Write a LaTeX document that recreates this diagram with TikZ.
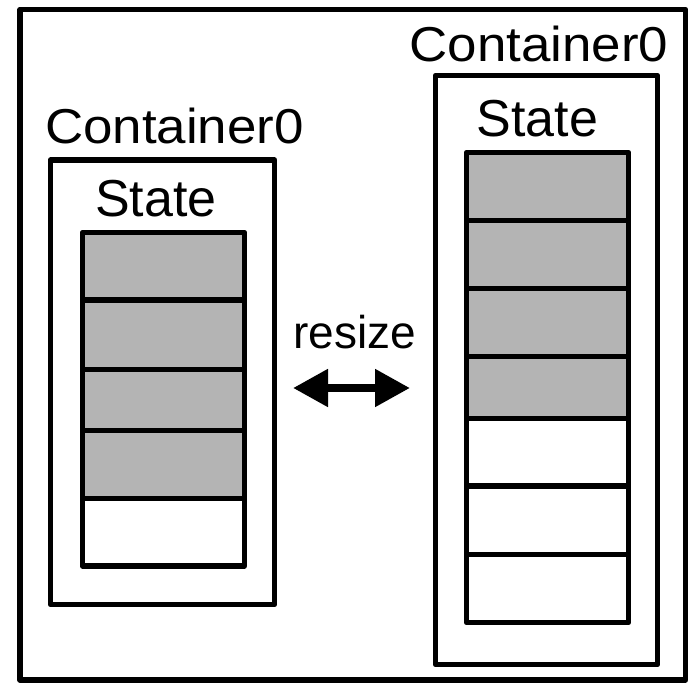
\documentclass[tikz,border=0pt]{standalone}
\usepackage{fontspec}
\setmainfont{Liberation Sans}
\usetikzlibrary{arrows.meta}
\definecolor{cellgray}{gray}{0.706}
\tikzset{
  frame/.style={draw=black, line width=5.5pt, line join=round},
  cellbox/.style={draw=black, line width=5.5pt, line join=round},
  label/.style={inner sep=0pt, anchor=base, font=\fontsize{49}{49}\selectfont},
  resizearrow/.style={line width=8pt,
    {Triangle[length=35pt,width=36pt]}-{Triangle[length=35pt,width=36pt]}},
}
\begin{document}
\begin{tikzpicture}[x=1pt, y=-1pt]
\useasboundingbox (0,0) rectangle (694,683);

% outer frame
\draw[frame] (20,9.5) rectangle (685.5,680);

% ---- left container ----
\draw[frame] (50.5,160) rectangle (274.5,604.5);
\node[label] (lcont) at (174.5,143) {\scalebox{1.08}[1]{Container0}};
\node[label, font=\fontsize{52}{52}\selectfont] (lstate) at (156,216) {State};
\def\lx{82.5} \def\rx{244.5}
\foreach \ya/\yb/\fc in {232.5/300/cellgray, 300/369.5/cellgray,
    369.5/430.5/cellgray, 430.5/498.5/cellgray, 498.5/566/white}
  \draw[cellbox, fill=\fc] (\lx,\ya) rectangle (\rx,\yb);

% ---- right container ----
\draw[frame] (435.5,75.5) rectangle (657.5,664.5);
\node[label] (rcont) at (539,61) {\scalebox{1.08}[1]{Container0}};
\node[label, font=\fontsize{52}{52}\selectfont] (rstate) at (537.5,136) {State};
\def\lxr{466.5} \def\rxr{628.5}
\foreach \ya/\yb/\fc in {152.5/220.5/cellgray, 220.5/288.5/cellgray,
    288.5/356.5/cellgray, 356.5/418.5/cellgray, 418.5/486/white,
    486/554.5/white, 554.5/622.5/white}
  \draw[cellbox, fill=\fc] (\lxr,\ya) rectangle (\rxr,\yb);

% ---- resize arrow ----
\node[label, font=\fontsize{46}{46}\selectfont] (rlab) at (355,348) {resize};
\coordinate (aL) at (293,388);
\coordinate (aR) at (410,388);
\draw[resizearrow] (aL) -- (aR);
\end{tikzpicture}
\end{document}
